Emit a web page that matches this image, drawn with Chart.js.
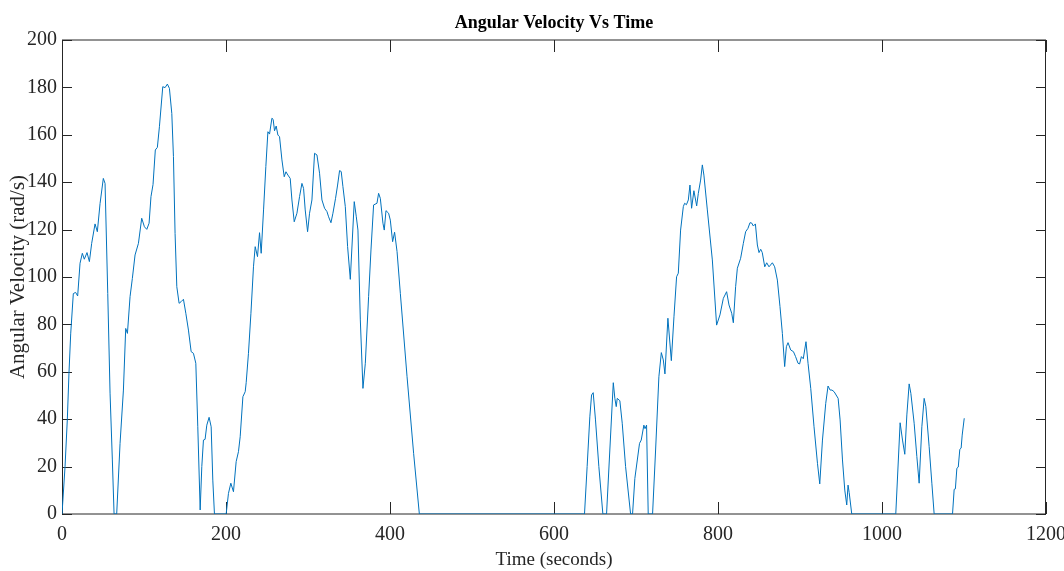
<!DOCTYPE html>
<html>
<head>
<meta charset="utf-8">
<title>Angular Velocity Vs Time</title>
<script src="https://cdn.jsdelivr.net/npm/chart.js@4.4.1/dist/chart.umd.min.js"></script>
<style>
  html, body { margin: 0; padding: 0; background: #fff; }
  canvas { display: block; }
</style>
</head>
<body>
<canvas id="velocity-chart" width="1064" height="571"></canvas>
<script>
// Time samples (seconds)
var timeSec = [
    0, 3.7, 6.5, 8.5, 10.6, 13.8, 16.6, 19.1, 22, 24.8, 27.2, 30.5, 33.4, 36.2, 40.3, 43.1, 46.4, 50.4, 52.5, 55.8,
    58.6, 61.4, 63.5, 66.7, 70.8, 74.9, 77.7, 79.8, 83, 85.8, 89.1, 93.2, 97.2, 100.5, 103.4, 106.2, 108.5, 111, 113.8, 116.3,
    118.8, 122.9, 125.7, 128.5, 131, 133.9, 135.9, 137.9, 140, 142.8, 145.3, 148.1, 151, 154.2, 157.5, 160.3, 163.2, 165.6, 168.5, 170.5,
    172.5, 174.5, 176.6, 179.4, 181.9, 183.9, 185.9, 200.2, 203, 205.9, 209.1, 212.4, 215.2, 217.3, 220.6, 223.4, 224.6, 227.4, 230.4, 233.5,
    235.6, 238.4, 240.9, 242.9, 245.8, 248.6, 251.1, 253.1, 256, 257.5, 259.2, 261.2, 263.3, 265.3, 268.2, 271, 273.1, 275.5, 278.3, 280.4,
    283.2, 286.5, 289.7, 292.6, 294.6, 296.6, 299.5, 301.9, 304.8, 308, 310.9, 314.1, 317, 320.2, 323.1, 325.1, 328, 330.4, 333.6, 336.1,
    338.5, 340.5, 342.6, 345.5, 348.3, 351.6, 356.4, 358.9, 360.9, 363.8, 367, 369.9, 373.9, 376.8, 380, 384.1, 386.1, 388.2, 391.4, 393,
    395.1, 398.3, 400.4, 403.2, 405.6, 408.6, 412.6, 420.8, 428.8, 435.8,
    637.2, 640.4, 643.7, 645.8, 647.8, 650.6, 654.7, 659.6, 664.1, 668.1, 672.3, 674.2, 675.9, 677.1, 680.3, 683.2, 687.3, 693.4, 695.8, 698.6,
    704.3, 706.4, 709.6, 711, 712.9, 714.9, 720.2, 723.9, 727.9, 730.9, 733.3, 735.3, 738.9, 743.1, 746.3, 749.5, 751.6, 754.4, 757.7, 759.3,
    761.5, 763.8, 765.8, 767.8, 770.6, 774, 776, 778.8, 780.9, 782.8, 787, 793.1, 798.3, 802.4, 806.5, 810.5, 813.4, 816.7, 818.7, 821.5,
    823.6, 827.6, 830.9, 833.7, 836.5, 839, 841, 843.1, 845.6, 848, 850, 852.1, 854, 857, 859.4, 862.2, 866.3, 869.1, 872.4, 875.6,
    878.5, 881.3, 883.4, 885.4, 888.7, 892, 894.5, 897.6, 899.5, 901.7, 904, 907.3, 909.8, 913.1, 917.1, 921.3, 924.1, 927.4, 931.4, 934.2,
    936.7, 939, 941.6, 946.5, 948.9, 951.8, 954.6, 957, 958.6, 960, 963.1,
    1016.8, 1022.1, 1025, 1027.8, 1030.3, 1033.1, 1035.2, 1039.2, 1042.5, 1045.3, 1048.6, 1051.4, 1053.5, 1057.5, 1060.8, 1063.6,
    1086, 1088, 1089.5, 1091.3, 1093, 1094.9, 1096.5, 1097.8, 1100.3
];

// Angular velocity (rad/s) at each time sample
var angVel = [
    0, 20, 40, 59.5, 76, 93, 93.5, 92, 105.8, 110, 107.5, 110.3, 106.5, 114.2, 122.4, 119.1, 131, 141.6, 139.5, 93,
    51, 22.8, 0, 0, 29.8, 52.3, 78.3, 76.2, 91.7, 99.4, 109.3, 114.2, 124.8, 121.2, 120.1, 122.7, 133.9, 139, 153.6, 154.7,
    163.4, 180.3, 179.9, 181.4, 179.6, 169, 150.8, 118.4, 95.9, 88.9, 89.6, 90.6, 84.7, 77.6, 68.5, 67.8, 63.6, 36.8, 1.7, 20,
    31.2, 31.5, 37.5, 40.8, 36.8, 14.3, 0, 0, 8.7, 13, 9.4, 22.1, 26.3, 32.6, 49.5, 51.6, 55.4, 67.8, 84.7, 104.3,
    112.8, 108.6, 118.7, 110, 128.3, 146.6, 161.3, 160.3, 167, 166.5, 161.7, 163.7, 159.9, 159.2, 149.4, 142.3, 144.4, 143, 141.6, 132.5,
    123.3, 126.9, 133.9, 139.5, 137.4, 128.3, 119.1, 126.9, 132.5, 152.2, 151.5, 143.8, 132.5, 129, 127.6, 125.4, 122.9, 126.9, 133.2, 138.8,
    144.9, 144.5, 138.1, 129.7, 112.8, 99, 131.8, 125.4, 119.8, 81.9, 53, 63.6, 91.7, 111.4, 130.4, 131.1, 135.3, 133.2, 122.7, 119.8,
    128, 126.9, 124, 114.9, 118.9, 110.7, 93.1, 57.9, 25.6, 0,
    0, 20, 41, 50.2, 51.2, 39.7, 20, 0, 0, 27, 55.4, 48.8, 45.3, 48.8, 47.8, 38.3, 20, 0, 0, 15,
    29.8, 31.2, 37.5, 36, 37.5, 0, 0, 27, 57.9, 68.1, 65, 59.1, 82.6, 64.7, 83.2, 100.1, 101.6, 119.8, 129.7, 131.1,
    130.5, 132.5, 138.8, 129, 136.4, 130, 135.3, 140.9, 147.3, 143, 128.3, 107.2, 79.7, 84, 91, 93.8, 88.2, 84.7, 80.7, 95.9,
    103.7, 107.9, 114.2, 119.1, 120.5, 122.9, 122.8, 121.5, 122.4, 113.5, 110.3, 111.7, 110.3, 104.3, 106, 104.3, 106, 104.3, 98.7, 87.5,
    76.2, 62.2, 70.6, 72.3, 69.2, 68.5, 66.5, 63.6, 63.3, 66.4, 65.5, 72.7, 63.6, 53, 36.8, 21.4, 12.7, 31.2, 46.7, 54,
    52.3, 52.3, 51.6, 48.8, 39.7, 22.8, 10.1, 3.8, 12.2, 9, 0,
    0, 38.5, 31.2, 25.2, 41.8, 54.9, 50.9, 38.3, 24.2, 13, 36.8, 48.8, 45.3, 28.4, 13, 0,
    0, 10.4, 10.6, 19.3, 19.8, 27.3, 27.8, 33.3, 40.4
];

// Axis tick labels
var xTicks = [0, 200, 400, 600, 800, 1000, 1200];
var yTicks = [0, 20, 40, 60, 80, 100, 120, 140, 160, 180, 200];

var axisColor = '#262626';

// MATLAB-like frame with ticks pointing inward
var boxPlugin = {
    id: 'matlabBox',
    beforeDatasetsDraw: function(chart) {
        var ctx = chart.ctx;
        var a = chart.chartArea;
        var xs = chart.scales.x;
        var ys = chart.scales.y;
        ctx.save();
        ctx.strokeStyle = axisColor;
        ctx.lineWidth = 1;
        ctx.beginPath();
        // top and bottom edges
        ctx.moveTo(a.left, a.top); ctx.lineTo(a.right, a.top);
        ctx.moveTo(a.left, a.bottom); ctx.lineTo(a.right, a.bottom);
        // left and right edges
        ctx.moveTo(a.left + 0.5, a.top); ctx.lineTo(a.left + 0.5, a.bottom);
        ctx.moveTo(a.right - 0.5, a.top); ctx.lineTo(a.right - 0.5, a.bottom);
        xs.ticks.forEach(function(t) {
            var px = Math.round(xs.getPixelForValue(t.value)) + 0.5;
            ctx.moveTo(px, a.bottom); ctx.lineTo(px, a.bottom - 12);
            ctx.moveTo(px, a.top); ctx.lineTo(px, a.top + 12);
        });
        ys.ticks.forEach(function(t) {
            var py = Math.round(ys.getPixelForValue(t.value)) + 0.5;
            ctx.moveTo(a.left, py); ctx.lineTo(a.left + 10, py);
            ctx.moveTo(a.right, py); ctx.lineTo(a.right - 10, py);
        });
        ctx.stroke();
        ctx.restore();
    }
};

function createVelocityChart() {
    var canvas = document.getElementById('velocity-chart');
    if (!canvas || typeof Chart === 'undefined') {
        console.error('Chart.js or canvas missing');
        return;
    }

    var points = timeSec.map(function(t, i) {
        return { x: t, y: angVel[i] };
    });

    var tickFont = { family: 'Liberation Serif', size: 20, lineHeight: 1 };
    var xLabelFont = { family: 'Liberation Serif', size: 19, lineHeight: 1 };
    var yLabelFont = { family: 'Liberation Serif', size: 21, lineHeight: 1 };

    new Chart(canvas, {
        type: 'line',
        data: {
            datasets: [{
                data: points,
                borderColor: '#0072BD',
                borderWidth: 1,
                pointRadius: 0,
                tension: 0,
                fill: false
            }]
        },
        options: {
            responsive: false,
            animation: false,
            layout: { padding: { left: 0, right: 18, top: 0, bottom: 0 } },
            plugins: {
                legend: { display: false },
                tooltip: { enabled: false },
                title: {
                    display: true,
                    fullSize: false,
                    text: 'Angular Velocity Vs Time',
                    color: '#000',
                    font: { family: 'Liberation Serif', size: 18, weight: 'bold', lineHeight: 1.2 },
                    padding: { top: 13, bottom: 5.4 }
                }
            },
            scales: {
                x: {
                    type: 'linear',
                    min: xTicks[0],
                    max: xTicks[xTicks.length - 1],
                    ticks: {
                        stepSize: xTicks[1] - xTicks[0],
                        color: axisColor,
                        font: tickFont,
                        padding: 11,
                        maxRotation: 0,
                        autoSkip: false,
                        callback: function(v) { return String(v); }
                    },
                    grid: { display: false, drawTicks: false },
                    border: { display: false },
                    title: {
                        display: true,
                        text: 'Time (seconds)',
                        color: axisColor,
                        font: xLabelFont,
                        padding: { top: 0, bottom: 1 }
                    },
                    afterFit: function(s) {
                        s.height = 57;
                        s.paddingLeft = 0;
                        s.paddingRight = 0;
                    }
                },
                y: {
                    min: yTicks[0],
                    max: yTicks[yTicks.length - 1],
                    ticks: {
                        stepSize: yTicks[1] - yTicks[0],
                        color: axisColor,
                        font: tickFont,
                        padding: 5
                    },
                    grid: { display: false, drawTicks: false },
                    border: { display: false },
                    title: {
                        display: true,
                        text: 'Angular Velocity (rad/s)',
                        color: axisColor,
                        font: yLabelFont,
                        padding: { top: 7.5, bottom: 0 }
                    },
                    afterFit: function(s) {
                        s.width = 62;
                        s.paddingTop = 0;
                        s.paddingBottom = 0;
                    }
                }
            }
        },
        plugins: [boxPlugin]
    });
}

document.addEventListener('DOMContentLoaded', function() {
    createVelocityChart();
});
</script>
</body>
</html>
